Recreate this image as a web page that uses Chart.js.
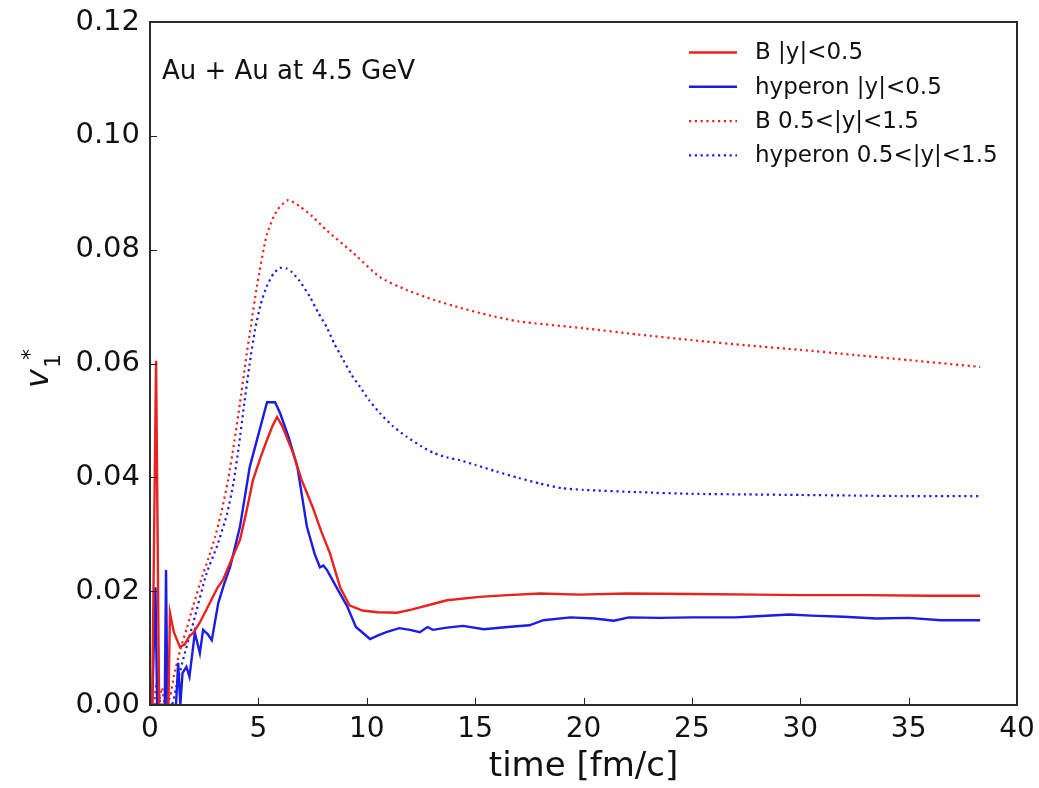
<!DOCTYPE html>
<html lang="en">
<head>
  <meta charset="UTF-8" />
  <title>v1* vs time</title>
  <script src="https://cdn.jsdelivr.net/npm/chart.js"></script>
  <style>
    body { margin: 0; background: #fff; }
  </style>
</head>
<body>
  <canvas id="v1Chart" width="1039" height="788"></canvas>

  <script>
    // B |y|<0.5
    const tBmid = [0.1, 0.28, 0.42, 0.85, 0.92, 1.1, 1.38, 1.6, 1.8, 2.0, 2.3, 2.77, 3.1, 3.37, 3.7, 4.15, 4.45, 4.75, 5.1, 5.4, 5.65, 5.86, 6.1, 6.6, 7.0, 7.5, 7.9, 8.3, 8.77, 9.2, 9.8, 10.5, 11.4, 12.1, 13.0, 13.7, 15.2, 16.5, 18, 19.8, 22, 25, 28, 30, 33, 36, 38.3];
    const vBmid = [0, 0.0605, 0, 0, 0.0162, 0.0128, 0.0102, 0.0106, 0.012, 0.0127, 0.0145, 0.018, 0.0205, 0.022, 0.025, 0.029, 0.034, 0.0395, 0.0435, 0.0466, 0.049, 0.0506, 0.049, 0.0443, 0.0395, 0.0348, 0.0305, 0.0267, 0.0207, 0.0175, 0.0166, 0.0163, 0.0162, 0.0168, 0.0177, 0.0184, 0.019, 0.0193, 0.0196, 0.0194, 0.0196, 0.0195, 0.0194, 0.0193, 0.0193, 0.0192, 0.0192];

    // hyperon |y|<0.5
    const tHmid = [0.1, 0.25, 0.33, 0.68, 0.74, 0.8, 1.2, 1.3, 1.4, 1.5, 1.68, 1.82, 2.07, 2.3, 2.45, 2.65, 2.85, 3.15, 3.4, 3.7, 4.15, 4.6, 5.0, 5.4, 5.77, 6.0, 6.4, 6.8, 7.24, 7.6, 7.84, 8.0, 8.17, 8.6, 9.1, 9.5, 10.15, 10.5, 10.9, 11.5, 12.0, 12.45, 12.8, 13.05, 13.7, 14.45, 15.4, 16.5, 17.5, 18.15, 19.4, 20.5, 21.4, 22.1, 23.5, 25, 27, 28, 29.5, 30.5, 32, 33.5, 35, 36.5, 38.3];
    const vHmid = [0, 0.0207, 0, 0, 0.0237, 0, 0, 0.0074, 0, 0.0056, 0.0067, 0.005, 0.0127, 0.0091, 0.0132, 0.0125, 0.0114, 0.0179, 0.021, 0.0243, 0.0313, 0.0418, 0.0475, 0.0532, 0.0532, 0.0513, 0.047, 0.0418, 0.0313, 0.0265, 0.0242, 0.0245, 0.0237, 0.0207, 0.0173, 0.0137, 0.0116, 0.0122, 0.0128, 0.0135, 0.0132, 0.0128, 0.0137, 0.0132, 0.0136, 0.0139, 0.0133, 0.0137, 0.014, 0.0149, 0.0154, 0.0152, 0.0148, 0.0154, 0.0153, 0.0154, 0.0154, 0.0156, 0.0159, 0.0157, 0.0155, 0.0152, 0.0153, 0.0149, 0.0149];

    // B 0.5<|y|<1.5
    const tBfwd = [0.2, 0.3, 0.4, 0.55, 0.7, 0.92, 1.1, 1.38, 1.7, 2.0, 2.4, 2.7, 3.0, 3.3, 3.6, 3.9, 4.15, 4.4, 4.65, 4.93, 5.38, 5.84, 6.37, 6.92, 7.5, 8.15, 9.38, 10.6, 11.85, 13.07, 14.3, 15.5, 17, 20, 22.5, 25, 27.5, 30, 32.5, 35, 38.3];
    const vBfwd = [0, 0.004, 0, 0.003, 0, 0.0014, 0.005, 0.0095, 0.0135, 0.0175, 0.0225, 0.0258, 0.0295, 0.034, 0.0395, 0.0465, 0.053, 0.06, 0.0665, 0.0735, 0.0825, 0.0868, 0.0887, 0.0876, 0.0858, 0.0834, 0.0794, 0.0752, 0.0729, 0.0712, 0.0698, 0.0686, 0.0674, 0.0662, 0.0651, 0.0641, 0.0632, 0.0624, 0.0615, 0.0606, 0.0594];

    // hyperon 0.5<|y|<1.5
    const tHfwd = [0.3, 0.4, 0.5, 1.0, 1.2, 1.52, 2.0, 2.6, 3.1, 3.55, 3.85, 4.1, 4.35, 4.6, 4.85, 5.1, 5.38, 5.7, 6.0, 6.3, 6.53, 6.9, 7.38, 7.75, 8.15, 8.5, 8.92, 9.3, 9.69, 10.1, 10.6, 11.2, 11.85, 12.5, 13.07, 13.7, 14.3, 15, 16, 17, 18, 19, 20, 22.5, 25, 27.5, 30, 32.5, 35, 38.3];
    const vHfwd = [0, 0.003, 0, 0, 0.003, 0.0079, 0.0145, 0.023, 0.028, 0.0335, 0.039, 0.0455, 0.053, 0.06, 0.066, 0.0703, 0.0735, 0.0758, 0.0768, 0.0767, 0.0761, 0.0745, 0.0717, 0.069, 0.0664, 0.0635, 0.0606, 0.058, 0.0559, 0.0536, 0.0513, 0.049, 0.0471, 0.0455, 0.0443, 0.0435, 0.043, 0.0422, 0.041, 0.0399, 0.0389, 0.0381, 0.0378, 0.0374, 0.0371, 0.037, 0.0369, 0.0368, 0.0367, 0.0367];

    // dotted zero line along the bottom
    const tZero = [0, 40];
    const vZero = [0, 0];

    const xTicks = [0, 5, 10, 15, 20, 25, 30, 35, 40];
    const yTicks = [0, 0.02, 0.04, 0.06, 0.08, 0.10, 0.12];

    const RED = '#e8221e';
    const BLUE = '#1c1ce4';
    const FONT = 'DejaVu Sans';

    function pts(ts, vs) {
      return ts.map((t, i) => ({ x: t, y: vs[i] }));
    }

    // frame, inward ticks, legend, annotation and y label
    const decorations = {
      id: 'decorations',
      afterDatasetsDraw(chart) {
        const { ctx, chartArea: a, scales } = chart;
        ctx.save();

        ctx.strokeStyle = '#222';
        ctx.lineWidth = 1;
        xTicks.forEach(v => {
          const px = Math.round(scales.x.getPixelForValue(v)) + 0.5;
          ctx.beginPath();
          ctx.moveTo(px, a.bottom);
          ctx.lineTo(px, a.bottom - 7);
          ctx.stroke();
        });
        yTicks.forEach(v => {
          const py = Math.round(scales.y.getPixelForValue(v)) + 0.5;
          ctx.beginPath();
          ctx.moveTo(a.left, py);
          ctx.lineTo(a.left + 7, py);
          ctx.stroke();
        });

        ctx.lineWidth = 2;
        ctx.strokeStyle = '#2a2a2a';
        ctx.strokeRect(a.left, a.top, a.right - a.left, a.bottom - a.top);

        // annotation
        ctx.fillStyle = '#111';
        ctx.font = '26px "' + FONT + '"';
        ctx.textBaseline = 'alphabetic';
        ctx.textAlign = 'left';
        ctx.fillText('Au + Au at 4.5 GeV', 162, 79);

        // legend
        ctx.font = '23px "' + FONT + '"';
        ctx.textBaseline = 'middle';
        chart.data.datasets.forEach((ds, i) => {
          if (!ds.inLegend) return;
          const y = 52.5 + i * 34.3;
          ctx.strokeStyle = ds.borderColor;
          ctx.lineWidth = ds.borderWidth;
          ctx.setLineDash(ds.borderDash || []);
          ctx.beginPath();
          ctx.moveTo(689, y);
          ctx.lineTo(737, y);
          ctx.stroke();
          ctx.setLineDash([]);
          ctx.fillStyle = '#111';
          ctx.fillText(ds.label, 755, y + 1);
        });

        // y axis label: v_1^*
        ctx.translate(48, 388);
        ctx.rotate(-Math.PI / 2);
        ctx.textBaseline = 'alphabetic';
        ctx.fillStyle = '#111';
        ctx.font = 'oblique 32px "' + FONT + '"';
        ctx.fillText('v', 0, 0);
        ctx.font = '22px "' + FONT + '"';
        ctx.fillText('1', 20, 12);
        ctx.fillText('*', 28, -11);

        ctx.restore();
      }
    };

    function drawChart() {
      const ctx = document.getElementById('v1Chart').getContext('2d');
      new Chart(ctx, {
        type: 'line',
        data: {
          datasets: [
            { label: 'B |y|<0.5', data: pts(tBmid, vBmid), borderColor: RED, borderWidth: 2.4, inLegend: true },
            { label: 'hyperon |y|<0.5', data: pts(tHmid, vHmid), borderColor: BLUE, borderWidth: 2.4, inLegend: true },
            { label: 'B 0.5<|y|<1.5', data: pts(tBfwd, vBfwd), borderColor: RED, borderWidth: 2.2, borderDash: [2.2, 3.6], tension: 0.2, inLegend: true },
            { label: 'hyperon 0.5<|y|<1.5', data: pts(tHfwd, vHfwd), borderColor: BLUE, borderWidth: 2.2, borderDash: [2.2, 3.6], tension: 0.2, inLegend: true },
            { label: 'zero', data: pts(tZero, vZero), borderColor: '#222', borderWidth: 1.4, borderDash: [2, 3], inLegend: false }
          ]
        },
        options: {
          responsive: false,
          devicePixelRatio: 1,
          animation: false,
          elements: { point: { radius: 0 }, line: { fill: false } },
          layout: { padding: { left: 0, top: 22, right: 22, bottom: 0 } },
          plugins: { legend: { display: false }, tooltip: { enabled: false } },
          scales: {
            x: {
              type: 'linear',
              min: 0,
              max: 40,
              grid: { display: false, drawTicks: false },
              border: { display: false },
              afterBuildTicks: s => { s.ticks = xTicks.map(v => ({ value: v })); },
              ticks: { color: '#111', padding: 8, font: { family: FONT, size: 28 }, callback: v => String(v) },
              title: { display: true, text: 'time [fm/c]', color: '#111', font: { family: FONT, size: 34 }, padding: { top: 0, bottom: 0 } },
              afterFit: s => { s.height = 83; s.paddingLeft = 0; s.paddingRight = 0; }
            },
            y: {
              min: 0,
              max: 0.12,
              grid: { display: false, drawTicks: false },
              border: { display: false },
              afterBuildTicks: s => { s.ticks = yTicks.map(v => ({ value: v })); },
              ticks: { color: '#111', padding: 10, font: { family: FONT, size: 29 }, callback: v => v.toFixed(2) },
              afterFit: s => { s.width = 150; s.paddingTop = 0; s.paddingBottom = 0; }
            }
          }
        },
        plugins: [decorations]
      });
    }

    drawChart();
  </script>
</body>
</html>
